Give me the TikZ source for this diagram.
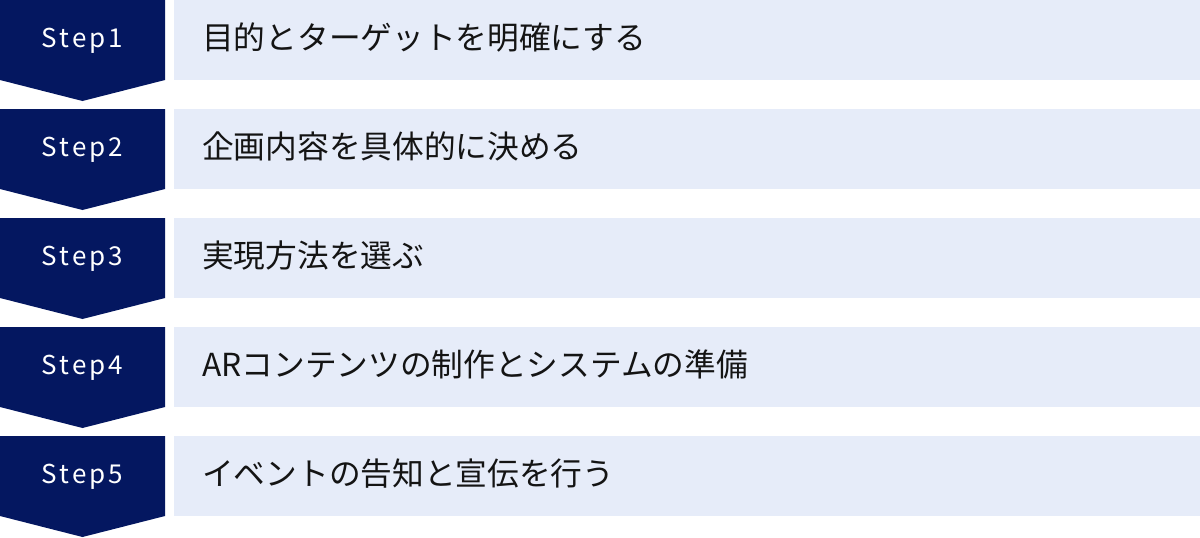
\documentclass[tikz,border=0pt]{standalone}
\usepackage{fontspec}
\setmainfont{Noto Sans CJK JP}
\newfontfamily\stepfont[LetterSpace=12]{Noto Sans CJK JP}
\definecolor{navy}{RGB}{4,23,96}
\definecolor{lightbox}{RGB}{230,236,249}
\definecolor{txt}{RGB}{20,20,20}
\tikzset{
  chev/.style={fill=navy,draw=none},
  boxbg/.style={fill=lightbox,draw=none},
  steplbl/.style={text=white,font=\stepfont\fontsize{26}{30}\selectfont,anchor=base west,inner sep=0pt},
  desc/.style={text=txt,font=\fontsize{31.7}{36}\selectfont,anchor=base west,inner sep=0pt}
}
\begin{document}
\begin{tikzpicture}[x=1pt,y=-1pt]
\useasboundingbox (0,0) rectangle (1200,538);
\foreach \i/\t [count=\n] in {0/目的とターゲットを明確にする,1/企画内容を具体的に決める,2/実現方法を選ぶ,3/ARコンテンツの制作とシステムの準備,4/イベントの告知と宣伝を行う}{
  \pgfmathsetmacro{\yy}{\i*109}
  \fill[chev] (0,\yy) -- (165,\yy) -- (165,\yy+80) -- (82.5,\yy+101) -- (0,\yy+80) -- cycle;
  \fill[boxbg] (174,\yy) rectangle (1200,\yy+80);
  \node[steplbl] (s\n) at (41.5,\yy+47) {Step\n};
  \node[desc] (d\n) at (202,\yy+49) {\t};
}
\end{tikzpicture}
\end{document}
